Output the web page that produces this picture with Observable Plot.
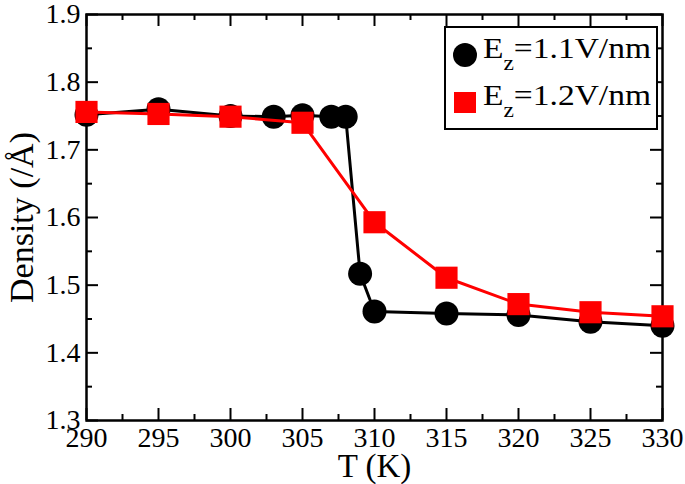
<!DOCTYPE html>
<html><head><meta charset="utf-8">
<script src="https://cdn.jsdelivr.net/npm/d3@7"></script>
<script src="https://cdn.jsdelivr.net/npm/@observablehq/plot@0.6"></script>
<style>
html,body{margin:0;padding:0;background:#fff;}
#chart{width:685px;height:484px;}
</style></head><body><div id="chart"></div>
<script>
// Series Ez = 1.1 V/nm (black circles)
const temps11 = [290, 295, 300, 303, 305, 307, 308, 309, 310, 315, 320, 325, 330];
const density11 = [1.752, 1.760, 1.750, 1.749, 1.751, 1.749, 1.749, 1.517, 1.461, 1.458, 1.456, 1.446, 1.440];
// Series Ez = 1.2 V/nm (red squares)
const temps12 = [290, 295, 300, 305, 310, 315, 320, 325, 330];
const density12 = [1.756, 1.753, 1.749, 1.740, 1.593, 1.511, 1.472, 1.460, 1.454];
// Axes
const xTicks = [290, 295, 300, 305, 310, 315, 320, 325, 330];
const xMinor = [292.5, 297.5, 302.5, 307.5, 312.5, 317.5, 322.5, 327.5];
const yTicks = [1.3, 1.4, 1.5, 1.6, 1.7, 1.8, 1.9];
const yMinor = [1.35, 1.45, 1.55, 1.65, 1.75, 1.85];
const xLabel = "T (K)";
const yLabel = "Density (/Å)";
const seriesNames = ["1.1V/nm", "1.2V/nm"];
const seriesColors = ["#000000", "#ff0000"];

const s1 = temps11.map((t, i) => ({t, d: density11[i]}));
const s2 = temps12.map((t, i) => ({t, d: density12[i]}));

const W = 685, H = 484;
const mL = 86, mR = 23, mT = 14, mB = 64;
const iW = W - mL - mR, iH = H - mT - mB;
const font = "'Liberation Serif', 'Times New Roman', serif";
const majorLen = 12, minorLen = 6;

const chart = Plot.plot({
  width: W, height: H,
  marginLeft: mL, marginRight: mR, marginTop: mT, marginBottom: mB,
  style: {fontFamily: font, fontSize: "28px", color: "#000", background: "#fff", overflow: "visible"},
  x: {domain: [290, 330]},
  y: {domain: [1.3, 1.9]},
  marks: [
    // ticks inside, all four sides
    Plot.tickX(xTicks, {x: d => d, insetTop: iH - majorLen, stroke: "#000", strokeWidth: 2}),
    Plot.tickX(xMinor, {x: d => d, insetTop: iH - minorLen, stroke: "#000", strokeWidth: 2}),
    Plot.tickX(xTicks, {x: d => d, insetBottom: iH - majorLen, stroke: "#000", strokeWidth: 2}),
    Plot.tickX(xMinor, {x: d => d, insetBottom: iH - minorLen, stroke: "#000", strokeWidth: 2}),
    Plot.tickY(yTicks, {y: d => d, insetRight: iW - majorLen, stroke: "#000", strokeWidth: 2}),
    Plot.tickY(yMinor, {y: d => d, insetRight: iW - minorLen, stroke: "#000", strokeWidth: 2}),
    Plot.tickY(yTicks, {y: d => d, insetLeft: iW - majorLen, stroke: "#000", strokeWidth: 2}),
    Plot.tickY(yMinor, {y: d => d, insetLeft: iW - minorLen, stroke: "#000", strokeWidth: 2}),
    Plot.frame({stroke: "#000", strokeWidth: 2.5}),
    Plot.axisX({ticks: xTicks, tickSize: 0, tickPadding: 7, fontSize: 28, label: null, tickFormat: d => String(d)}),
    Plot.axisY({ticks: yTicks, tickSize: 0, tickPadding: 6, fontSize: 28, label: null, tickFormat: d => d.toFixed(1)}),
    Plot.text([xLabel], {frameAnchor: "bottom", textAnchor: "middle", dy: 46, fontSize: 33, lineAnchor: "middle"}),
    Plot.text([yLabel], {frameAnchor: "left", textAnchor: "middle", rotate: -90, dx: -64, fontSize: 34, lineAnchor: "middle"}),
    // series 1
    Plot.line(s1, {x: "t", y: "d", stroke: seriesColors[0], strokeWidth: 3}),
    Plot.dot(s1, {x: "t", y: "d", r: 12, fill: seriesColors[0], stroke: "none"}),
    // series 2
    Plot.line(s2, {x: "t", y: "d", stroke: seriesColors[1], strokeWidth: 3}),
    Plot.dot(s2, {x: "t", y: "d", symbol: "square", r: 12.5, fill: seriesColors[1], stroke: "none"})
  ]
});
document.getElementById("chart").appendChild(chart);

// Legend
const svg = d3.select(chart);
const lg = svg.append("g").attr("font-family", font).attr("text-anchor", "start");
lg.append("rect").attr("x", 445).attr("y", 27).attr("width", 212).attr("height", 102)
  .attr("fill", "#fff").attr("stroke", "#000").attr("stroke-width", 2);
const rows = [{y: 58, sym: "circle"}, {y: 105, sym: "square"}];
rows.forEach((r, i) => {
  if (r.sym === "circle") {
    lg.append("circle").attr("cx", 465).attr("cy", r.y - 3).attr("r", 12).attr("fill", seriesColors[i]);
  } else {
    lg.append("rect").attr("x", 454).attr("y", r.y - 13).attr("width", 22).attr("height", 21).attr("fill", seriesColors[i]);
  }
  const t = lg.append("text").attr("x", 483).attr("y", r.y).attr("font-size", 30).attr("fill", "#000")
    .attr("text-anchor", "start").attr("textLength", 168).attr("lengthAdjust", "spacingAndGlyphs");
  t.append("tspan").text("E");
  t.append("tspan").attr("dy", 12).attr("font-size", 21).text("z");
  t.append("tspan").attr("dy", -12).text("=" + seriesNames[i]);
});
</script>
</body></html>
